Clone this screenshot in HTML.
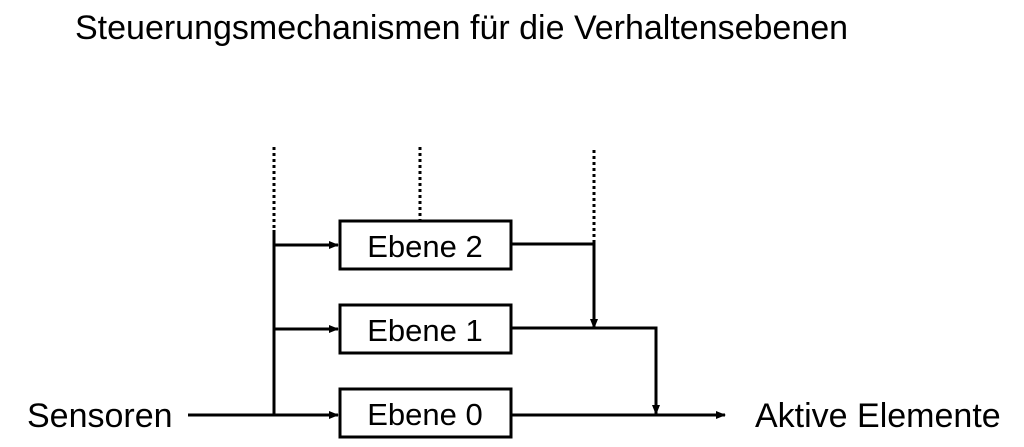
<!DOCTYPE html>
<html><head><meta charset="utf-8"><style>
html,body{margin:0;padding:0;background:#fff;width:1024px;height:447px;overflow:hidden}
</style></head><body>
<svg width="1024" height="447" xmlns="http://www.w3.org/2000/svg" font-family="Liberation Sans, sans-serif">
<defs><marker id="a" markerWidth="10" markerHeight="8" refX="9" refY="4" orient="auto" markerUnits="userSpaceOnUse"><path d="M0,0 L10,4 L0,8 z" fill="#000"/></marker></defs>
<text x="75" y="39" font-size="34" fill="#000">Steuerungsmechanismen für die Verhaltensebenen</text>
<g stroke="#000" stroke-width="3" fill="none">
<line x1="274" y1="147" x2="274" y2="230" stroke-dasharray="3,3"/>
<line x1="420" y1="147" x2="420" y2="221" stroke-dasharray="3,3"/>
<line x1="594" y1="150" x2="594" y2="245" stroke-dasharray="3,3"/>
<line x1="274" y1="230" x2="274" y2="415"/>
<line x1="188" y1="415" x2="338" y2="415" marker-end="url(#a)"/>
<line x1="274" y1="245" x2="338" y2="245" marker-end="url(#a)"/>
<line x1="274" y1="329" x2="338" y2="329" marker-end="url(#a)"/>
<rect x="340" y="221" width="171" height="48"/>
<rect x="340" y="305" width="171" height="48"/>
<rect x="340" y="389" width="171" height="48"/>
<polyline points="511,244 594,244 594,328" marker-end="url(#a)"/>
<polyline points="511,328 656,328 656,414" marker-end="url(#a)"/>
<line x1="511" y1="415" x2="725" y2="415" marker-end="url(#a)"/>
</g>
<g font-size="31" fill="#000" text-anchor="middle">
<text x="425" y="257">Ebene 2</text>
<text x="425" y="341">Ebene 1</text>
<text x="425" y="425">Ebene 0</text>
</g>
<text x="27" y="427" font-size="34">Sensoren</text>
<text x="755" y="427" font-size="34">Aktive Elemente</text>
</svg>
</body></html>
